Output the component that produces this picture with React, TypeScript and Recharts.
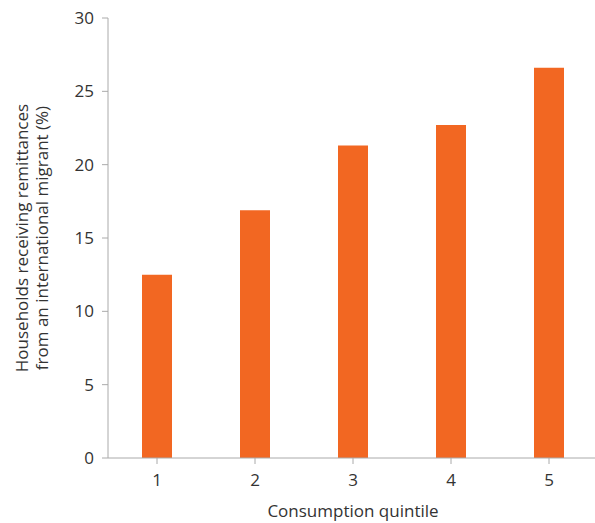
import { Bar, BarChart, XAxis, YAxis } from "recharts";

const quintiles = ["1", "2", "3", "4", "5"];
const remittanceShare = [12.5, 16.9, 21.3, 22.7, 26.6];
const yTicks = [0, 5, 10, 15, 20, 25, 30];

const data = quintiles.map((q, i) => ({ quintile: q, value: remittanceShare[i] }));

const FONT = "'Open Sans', 'Noto Sans', sans-serif";
const AXIS = "#aaaaaa";
const TEXT = "#333333";

const YLabel = ({ viewBox }: any) => {
  const cy = viewBox.y + viewBox.height / 2;
  return (
    <text
      transform={`translate(32, ${cy}) rotate(-90)`}
      textAnchor="middle"
      fill={TEXT}
      fontSize={17}
      fontFamily={FONT}
    >
      <tspan x={0} dy={-4}>Households receiving remittances</tspan>
      <tspan x={0} dy={20}>from an international migrant (%)</tspan>
    </text>
  );
};

export default function App() {
  return (
    <div style={{ position: "absolute", left: 0, top: 0, background: "#fff" }}>
      <BarChart
        width={610}
        height={523}
        data={data}
        margin={{ top: 18, right: 12, left: 0, bottom: 0 }}
        barCategoryGap={34}
      >
        <XAxis
          dataKey="quintile"
          height={65}
          stroke={AXIS}
          tickSize={6}
          tickMargin={10}
          tick={{ fill: TEXT, fontSize: 17, fontFamily: FONT }}
          label={{
            value: "Consumption quintile",
            position: "insideBottom",
            offset: 6,
            fill: TEXT,
            fontSize: 17,
            fontFamily: FONT,
          }}
        />
        <YAxis
          width={108}
          domain={[0, 30]}
          ticks={yTicks}
          stroke={AXIS}
          tickSize={6}
          tickMargin={8}
          tick={{ fill: TEXT, fontSize: 17, fontFamily: FONT }}
          label={<YLabel />}
        />
        <Bar dataKey="value" fill="#f26722" barSize={30} isAnimationActive={false} />
      </BarChart>
    </div>
  );
}
